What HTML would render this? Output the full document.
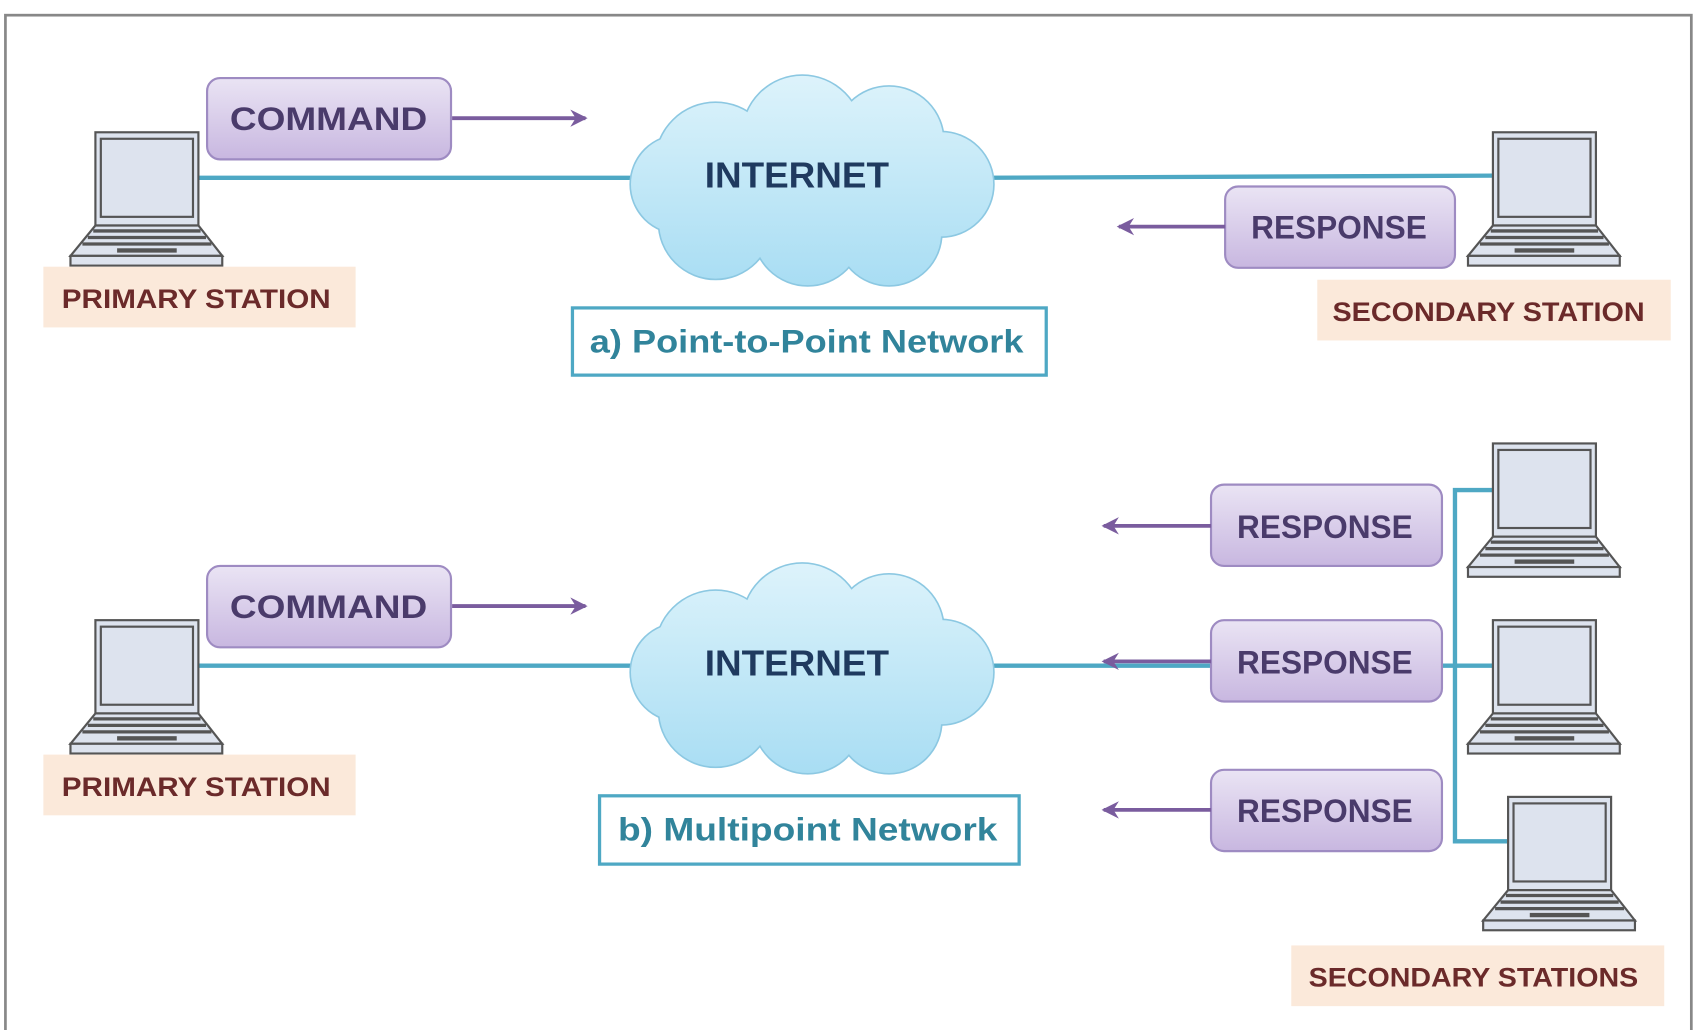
<!DOCTYPE html>
<html><head><meta charset="utf-8"><style>html,body{margin:0;padding:0;background:#fff;width:1700px;height:1030px;overflow:hidden} text{font-weight:bold}</style></head>
<body>
<svg width="1700" height="1030" viewBox="0 0 1568 950" preserveAspectRatio="none" xmlns="http://www.w3.org/2000/svg" font-family="'Liberation Sans', sans-serif">
<defs>
<linearGradient id="pg" x1="0" y1="0" x2="0" y2="1"><stop offset="0" stop-color="#EAE4F4"/><stop offset="1" stop-color="#C8B7E0"/></linearGradient>
<linearGradient id="cg" gradientUnits="userSpaceOnUse" x1="0" y1="70" x2="0" y2="265"><stop offset="0" stop-color="#DDF3FB"/><stop offset="1" stop-color="#A8DDF3"/></linearGradient>
<g id="lap">
<rect x="0" y="0" width="95" height="86" fill="#DDE3EE" stroke="#555" stroke-width="2"/>
<rect x="5" y="6" width="85" height="72" fill="#DDE3EE" stroke="#555" stroke-width="2"/>
<polygon points="0,86 95,86 117,114 -23,114" fill="#DDE3EE" stroke="#555" stroke-width="2"/>
<rect x="-23" y="114" width="140" height="9" fill="#DDE3EE" stroke="#555" stroke-width="2"/>
<line x1="-2" y1="91" x2="97" y2="91" stroke="#555" stroke-width="3"/>
<line x1="-7" y1="97" x2="102" y2="97" stroke="#555" stroke-width="3"/>
<line x1="-12" y1="103" x2="107" y2="103" stroke="#555" stroke-width="3"/>
<rect x="20" y="107" width="55" height="4" fill="#555"/>
</g>
<g id="cloud">
<g fill="url(#cg)" stroke="#8CC8E2" stroke-width="3">
<circle cx="660" cy="150" r="55"/><circle cx="740" cy="125" r="55"/><circle cx="820" cy="130" r="50"/><circle cx="868" cy="170" r="48"/><circle cx="820" cy="215" r="48"/><circle cx="745" cy="213" r="50"/><circle cx="660" cy="205" r="52"/><circle cx="627" cy="170" r="45"/>
</g>
<g fill="url(#cg)">
<circle cx="660" cy="150" r="55"/><circle cx="740" cy="125" r="55"/><circle cx="820" cy="130" r="50"/><circle cx="868" cy="170" r="48"/><circle cx="820" cy="215" r="48"/><circle cx="745" cy="213" r="50"/><circle cx="660" cy="205" r="52"/><circle cx="627" cy="170" r="45"/>
<ellipse cx="748" cy="170" rx="130" ry="70"/>
</g>
</g>
<marker id="ar" markerUnits="userSpaceOnUse" markerWidth="18" markerHeight="18" refX="14" refY="9" orient="auto"><path d="M0,1 L16,9 L0,17 L5,9 Z" fill="#7A5C9E"/></marker>
</defs>
<rect x="5" y="14" width="1555" height="950" fill="none" stroke="#888" stroke-width="2.5"/>

<line x1="183" y1="164" x2="600" y2="164" stroke="#4EA8C4" stroke-width="4"/>
<line x1="900" y1="164" x2="1378" y2="162" stroke="#4EA8C4" stroke-width="4"/>
<use href="#lap" x="88" y="122"/>
<use href="#lap" x="1377" y="122"/>
<use href="#cloud"/>
<text x="735" y="173" font-size="33" fill="#1F3A5F" text-anchor="middle" textLength="170" lengthAdjust="spacingAndGlyphs">INTERNET</text>
<rect x="191" y="72" width="225" height="75" rx="12" fill="url(#pg)" stroke="#9E8BC2" stroke-width="2"/>
<text x="303" y="120" font-size="30" fill="#4A3B6B" text-anchor="middle" textLength="182" lengthAdjust="spacingAndGlyphs">COMMAND</text>
<line x1="417" y1="109" x2="540" y2="109" stroke="#7A5C9E" stroke-width="3.5" marker-end="url(#ar)"/>
<rect x="1130" y="172" width="212" height="75" rx="12" fill="url(#pg)" stroke="#9E8BC2" stroke-width="2"/>
<text x="1235" y="220" font-size="30" fill="#4A3B6B" text-anchor="middle" textLength="162" lengthAdjust="spacingAndGlyphs">RESPONSE</text>
<line x1="1130" y1="209" x2="1032" y2="209" stroke="#7A5C9E" stroke-width="3.5" marker-end="url(#ar)"/>
<rect x="40" y="246" width="288" height="56" fill="#FBE9DA"/>
<text x="181" y="284" font-size="25" fill="#6B2A2A" text-anchor="middle" textLength="248" lengthAdjust="spacingAndGlyphs">PRIMARY STATION</text>
<rect x="1215" y="258" width="326" height="56" fill="#FBE9DA"/>
<text x="1373" y="296" font-size="25" fill="#6B2A2A" text-anchor="middle" textLength="288" lengthAdjust="spacingAndGlyphs">SECONDARY STATION</text>
<rect x="528" y="284" width="437" height="62" fill="#fff" stroke="#4EA8C4" stroke-width="3"/>
<text x="744" y="325" font-size="30" fill="#31849B" text-anchor="middle" textLength="400" lengthAdjust="spacingAndGlyphs">a) Point-to-Point Network</text>

<line x1="183" y1="614" x2="600" y2="614" stroke="#4EA8C4" stroke-width="4"/>
<line x1="900" y1="614" x2="1120" y2="614" stroke="#4EA8C4" stroke-width="4"/>
<use href="#lap" x="88" y="572"/>
<use href="#cloud" transform="translate(0,450)"/>
<text x="735" y="623" font-size="33" fill="#1F3A5F" text-anchor="middle" textLength="170" lengthAdjust="spacingAndGlyphs">INTERNET</text>
<rect x="191" y="522" width="225" height="75" rx="12" fill="url(#pg)" stroke="#9E8BC2" stroke-width="2"/>
<text x="303" y="570" font-size="30" fill="#4A3B6B" text-anchor="middle" textLength="182" lengthAdjust="spacingAndGlyphs">COMMAND</text>
<line x1="417" y1="559" x2="540" y2="559" stroke="#7A5C9E" stroke-width="3.5" marker-end="url(#ar)"/>
<rect x="40" y="696" width="288" height="56" fill="#FBE9DA"/>
<text x="181" y="734" font-size="25" fill="#6B2A2A" text-anchor="middle" textLength="248" lengthAdjust="spacingAndGlyphs">PRIMARY STATION</text>
<rect x="553" y="734" width="387" height="63" fill="#fff" stroke="#4EA8C4" stroke-width="3"/>
<text x="745" y="775" font-size="30" fill="#31849B" text-anchor="middle" textLength="350" lengthAdjust="spacingAndGlyphs">b) Multipoint Network</text>

<polyline points="1378,452 1342,452 1342,776 1390,776" fill="none" stroke="#4EA8C4" stroke-width="4"/>
<line x1="1330" y1="614" x2="1378" y2="614" stroke="#4EA8C4" stroke-width="4"/>
<use href="#lap" x="1377" y="409"/>
<use href="#lap" x="1377" y="572"/>
<use href="#lap" x="1391" y="735"/>

<rect x="1117" y="447" width="213" height="75" rx="12" fill="url(#pg)" stroke="#9E8BC2" stroke-width="2"/>
<text x="1222" y="496" font-size="30" fill="#4A3B6B" text-anchor="middle" textLength="162" lengthAdjust="spacingAndGlyphs">RESPONSE</text>
<line x1="1117" y1="485" x2="1018" y2="485" stroke="#7A5C9E" stroke-width="3.5" marker-end="url(#ar)"/>
<rect x="1117" y="572" width="213" height="75" rx="12" fill="url(#pg)" stroke="#9E8BC2" stroke-width="2"/>
<text x="1222" y="621" font-size="30" fill="#4A3B6B" text-anchor="middle" textLength="162" lengthAdjust="spacingAndGlyphs">RESPONSE</text>
<line x1="1117" y1="610" x2="1018" y2="610" stroke="#7A5C9E" stroke-width="3.5" marker-end="url(#ar)"/>
<rect x="1117" y="710" width="213" height="75" rx="12" fill="url(#pg)" stroke="#9E8BC2" stroke-width="2"/>
<text x="1222" y="758" font-size="30" fill="#4A3B6B" text-anchor="middle" textLength="162" lengthAdjust="spacingAndGlyphs">RESPONSE</text>
<line x1="1117" y1="747" x2="1018" y2="747" stroke="#7A5C9E" stroke-width="3.5" marker-end="url(#ar)"/>

<rect x="1191" y="872" width="344" height="56" fill="#FBE9DA"/>
<text x="1359" y="910" font-size="25" fill="#6B2A2A" text-anchor="middle" textLength="304" lengthAdjust="spacingAndGlyphs">SECONDARY STATIONS</text>
</svg>
</body></html>
